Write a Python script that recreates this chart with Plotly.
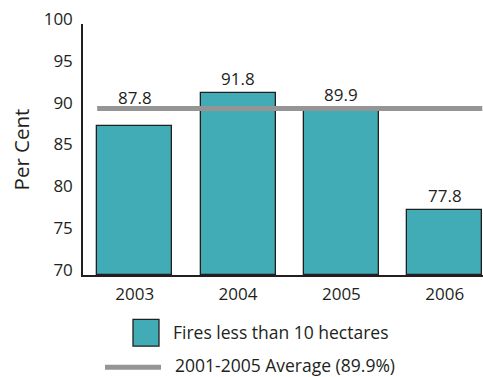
import plotly.graph_objects as go

years = ["2003", "2004", "2005", "2006"]
values = [87.8, 91.8, 89.9, 77.8]
average = 89.9
bar_name = "Fires less than 10 hectares"
avg_name = "2001-2005 Average (89.9%)"
y_ticks = [70, 75, 80, 85, 90, 95, 100]

FONT = "Open Sans"
TEAL = "#41abb6"
GREY = "#959595"
DARK = "#231f20"
BAR_W = 0.726
FS = 17

xs = list(range(len(years)))

fig = go.Figure()
fig.add_trace(go.Bar(
    x=xs, y=[v - 70 for v in values], base=70, width=BAR_W, name=bar_name,
    marker=dict(color=TEAL, line=dict(color=DARK, width=1.3)),
    showlegend=False,
))

fig.add_trace(go.Scatter(
    x=[xs[0] - BAR_W / 2, xs[-1] + BAR_W / 2], y=[average, average],
    mode="lines", line=dict(color=GREY, width=5), name=avg_name,
    showlegend=False,
))

for x, v in zip(xs, values):
    if average - 3 < v < average:
        fig.add_annotation(x=x, y=average, text=f"{v:.1f}", showarrow=False,
                           yanchor="bottom", yshift=-2,
                           font=dict(family=FONT, size=FS, color=DARK))
    else:
        fig.add_annotation(x=x, y=v, text=f"{v:.1f}", showarrow=False,
                           yanchor="bottom", yshift=1,
                           font=dict(family=FONT, size=FS, color=DARK))

# manual legend
fig.add_shape(type="rect", xref="paper", yref="paper",
              x0=(133 - 83) / 400, x1=(159 - 83) / 400,
              y0=(275.5 - 320) / 252, y1=(275.5 - 347) / 252,
              fillcolor=TEAL, line=dict(color=DARK, width=1.3))
fig.add_annotation(xref="paper", yref="paper", x=(171 - 83) / 400, y=(275.5 - 333) / 252,
                   text=bar_name, showarrow=False, xanchor="left", yanchor="middle",
                   font=dict(family=FONT, size=17.5, color=DARK))
fig.add_shape(type="line", xref="paper", yref="paper",
              x0=(105 - 83) / 400, x1=(161 - 83) / 400,
              y0=(275.5 - 368) / 252, y1=(275.5 - 368) / 252,
              line=dict(color=GREY, width=5))
fig.add_annotation(xref="paper", yref="paper", x=(173 - 83) / 400, y=(275.5 - 366) / 252,
                   text=avg_name, showarrow=False, xanchor="left", yanchor="middle",
                   font=dict(family=FONT, size=17.5, color=DARK))

fig.update_layout(
    width=483, height=377,
    margin=dict(l=83, r=0, t=23.5, b=101.5),
    plot_bgcolor="white", paper_bgcolor="white",
    font=dict(family=FONT, size=FS, color=DARK),
    showlegend=False,
    bargap=0,
)
fig.update_xaxes(
    range=[-0.5, 3.37], tickvals=xs, ticktext=years,
    showline=True, linecolor=DARK, linewidth=1.5, showgrid=False,
    ticks="", zeroline=False, ticklabelstandoff=3,
    tickfont=dict(family=FONT, size=FS, color=DARK),
)
fig.update_yaxes(
    range=[70, 100], tickvals=y_ticks,
    showline=True, linecolor=DARK, linewidth=1.5, showgrid=False,
    ticks="", zeroline=False, ticklabelstandoff=5, ticklabelshift=-5,
    tickfont=dict(family=FONT, size=FS, color=DARK),
    title=dict(text="Per Cent", font=dict(family=FONT, size=20.5, color=DARK), standoff=9),
)

fig.write_html("out.html")
